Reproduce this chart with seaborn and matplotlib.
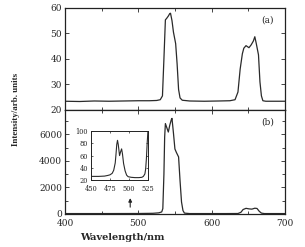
import matplotlib
matplotlib.use("Agg")
import matplotlib.pyplot as plt
from matplotlib.ticker import MultipleLocator
import seaborn as sns
import pandas as pd

# (a) upper spectrum
wl_a = [400, 420, 440, 460, 480, 500, 515, 525, 530, 533, 535, 537, 539, 541, 543, 544, 546, 548, 550, 551, 553, 555, 557, 560, 570,
        590, 610, 625, 632, 636, 639, 642, 644, 647, 651, 654, 657, 659, 661, 664, 666, 668, 670, 674, 685, 700]
int_a = [23.4, 23.3, 23.5, 23.4, 23.5, 23.6, 23.6, 23.7, 24.0, 25.5, 40, 55.3, 56.0, 56.8, 57.8, 57.9, 55.0, 50.5, 47.5, 46.0, 38, 28, 24.7, 23.8, 23.5,
        23.4, 23.5, 23.6, 24.0, 27, 36, 42, 44.2, 45.2, 44.4, 45.5, 47.0, 48.7, 46.0, 41.6, 31, 25.5, 23.6, 23.4, 23.4, 23.4]

# (b) lower spectrum
wl_b = [400, 450, 500, 520, 528, 532, 533.5, 535, 536, 537, 539, 541, 543, 545, 546, 548, 550, 552, 555, 557, 559, 561, 563, 570,
        620, 636, 640, 643, 647, 651, 655, 659, 662, 665, 668, 672, 700]
int_b = [25, 25, 30, 45, 80, 150, 400, 3000, 5800, 6820, 6500, 6180, 6700, 7100, 7210, 6100, 4900, 4640, 4300, 2500, 900, 250, 60, 25,
         25, 30, 120, 330, 420, 380, 360, 430, 410, 200, 60, 25, 25]

# inset: zoom of (b) between 450 and 525 nm
wl_c = [450, 460, 468, 472, 475, 478, 480, 482, 483, 484, 485, 486, 487.7, 489, 490.4, 491.5, 493, 495, 497, 499, 503, 508, 513, 517, 519, 521, 522, 523, 524, 525]
int_c = [26, 26, 26.5, 27.5, 28.5, 31, 36, 48, 62, 78, 85, 78, 60, 66, 71, 63, 47, 35, 28, 25.5, 24.5, 24, 24, 24.5, 26, 30, 38, 55, 80, 100]

arrow_x = 489
arrow_y = [300, 1400]

sns.set_style("ticks")
plt.rcParams["font.family"] = ["DejaVu Serif"]

fig = plt.figure(figsize=(3.05, 2.47), dpi=100)
ax1 = fig.add_axes([0.213, 0.555, 0.721, 0.413])
ax2 = fig.add_axes([0.213, 0.134, 0.721, 0.421])
axin = fig.add_axes([0.298, 0.271, 0.187, 0.198])

lc = "#2a2a2a"
lw = 0.9
sns.lineplot(data=pd.DataFrame({"x": wl_a, "y": int_a}), x="x", y="y", ax=ax1, color=lc, lw=lw, sort=False)
sns.lineplot(data=pd.DataFrame({"x": wl_b, "y": int_b}), x="x", y="y", ax=ax2, color=lc, lw=lw, sort=False)
sns.lineplot(data=pd.DataFrame({"x": wl_c, "y": int_c}), x="x", y="y", ax=axin, color=lc, lw=0.8, sort=False)

for ax in (ax1, ax2):
    ax.set_xlim(400, 700)
    ax.set_xlabel("")
    ax.set_ylabel("")
    ax.xaxis.set_major_locator(MultipleLocator(100))
    ax.xaxis.set_minor_locator(MultipleLocator(50))
    ax.tick_params(which="both", direction="in", top=True, right=True, labelsize=6.5, width=0.6)
    ax.tick_params(axis="y", pad=2)
    ax.tick_params(axis="x", pad=3.5)
    ax.tick_params(which="major", length=3)
    ax.tick_params(which="minor", length=2)
    for s in ax.spines.values():
        s.set_linewidth(0.9)
        s.set_color("#222222")

ax1.set_ylim(20, 60)
ax1.yaxis.set_major_locator(MultipleLocator(10))
ax1.tick_params(labelbottom=False)
ax2.set_ylim(0, 7850)
ax2.yaxis.set_major_locator(MultipleLocator(2000))
ax2.yaxis.set_minor_locator(MultipleLocator(1000))

ax1.text(0.92, 0.88, "(a)", transform=ax1.transAxes, fontsize=6.5, ha="center", va="center")
ax2.text(0.92, 0.885, "(b)", transform=ax2.transAxes, fontsize=6.5, ha="center", va="center")

ax2.annotate("", xy=(arrow_x, arrow_y[1]), xytext=(arrow_x, arrow_y[0]),
             arrowprops=dict(arrowstyle="-|>", color="#222222", lw=0.8, mutation_scale=5))

axin.set_xlim(450, 525)
axin.set_ylim(20, 100)
axin.set_xlabel("")
axin.set_ylabel("")
axin.xaxis.set_major_locator(MultipleLocator(25))
axin.yaxis.set_major_locator(MultipleLocator(20))
axin.tick_params(which="both", direction="in", top=True, right=True, labelsize=4.8, length=1.5, width=0.5)
axin.tick_params(axis="y", pad=2)
axin.tick_params(axis="x", pad=3.5)
for s in axin.spines.values():
    s.set_linewidth(0.7)
    s.set_color("#222222")

fig.text(0.4, 0.04, "Wavelength/nm", fontsize=7, fontweight="bold", ha="center", va="center")
fig.text(0.052, 0.555, "Intensity/arb. units", fontsize=6.5, fontweight="bold", rotation=90, ha="center", va="center",
         family=["Liberation Serif"])

fig.savefig("out.png", dpi=100)
